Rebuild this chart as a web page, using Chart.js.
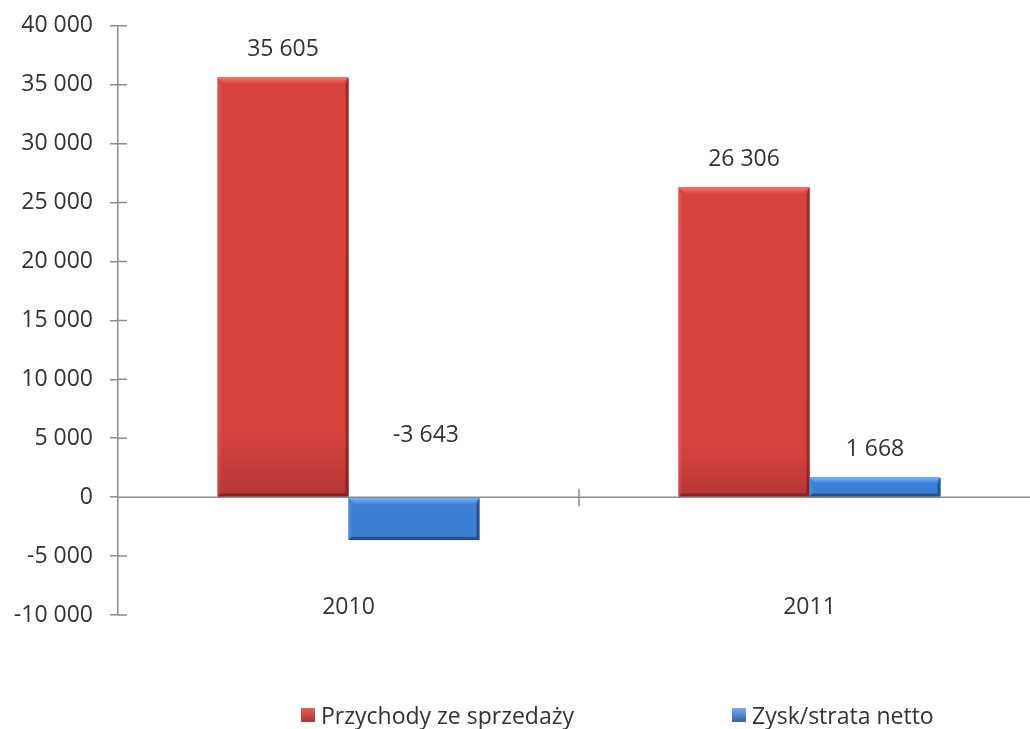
<!DOCTYPE html>
<html>
<head>
<meta charset="utf-8">
<script src="https://cdn.jsdelivr.net/npm/chart.js@4.4.1/dist/chart.umd.min.js"></script>
<style>
  html, body { margin: 0; padding: 0; background: #fff; width: 1030px; height: 729px; overflow: hidden; }
  #wrap { position: absolute; left: 0; top: -5px; width: 1060px; height: 734px; }
  .legend-item { position: absolute; top: 699px; display: flex; align-items: center; font: 23px "Open Sans", sans-serif; color: #333; white-space: nowrap; }
  .legend-box { width: 14px; height: 14px; margin-right: 6px; }
</style>
</head>
<body>
<div id="wrap"><canvas id="chart"></canvas></div>
<div class="legend-item" style="left:301px"><span class="legend-box" style="background:linear-gradient(#e0605a,#b0302d)"></span>Przychody ze sprzedaży</div>
<div class="legend-item" style="left:732px"><span class="legend-box" style="background:linear-gradient(#79adee,#2f63a6)"></span>Zysk/strata netto</div>
<script>
const categories = ['2010', '2011'];
const seriesNames = ['Przychody ze sprzedaży', 'Zysk/strata netto'];
const revenue = [35605, 26306];
const netResult = [-3643, 1668];
const yMin = -10000;
const yMax = 40000;
const yStep = 5000;

// fill + bevel shades per dataset
const SHADES = [
  { base: '#d6413e', top: '#d8433f', bottom: '#b53634', light: '#ec7570', side: 'rgba(255,255,255,0.08)', dark: 'rgba(90,10,10,0.45)' },
  { base: '#3b7ed6', top: '#3d80d8', bottom: '#3676cb', light: '#7cb2f2', side: 'rgba(255,255,255,0.08)', dark: 'rgba(10,30,70,0.45)' },
];

const FONT = '"Open Sans", sans-serif';
const AXIS = '#8c8c8c';
const TEXT = '#333';
const FONT_SIZE = 23;

function fmt(v) {
  const s = String(Math.abs(Math.round(v))).replace(/\B(?=(\d{3})+(?!\d))/g, ' ');
  return (v < 0 ? '-' : '') + s;
}

function poly(ctx, pts, color) {
  ctx.beginPath();
  ctx.moveTo(pts[0][0], pts[0][1]);
  for (let i = 1; i < pts.length; i++) ctx.lineTo(pts[i][0], pts[i][1]);
  ctx.closePath();
  ctx.fillStyle = color;
  ctx.fill();
}

// zero line, inner tick halves on the value axis, divider tick between categories,
// category names placed near the bottom of the plot
const axisMarks = {
  id: 'axisMarks',
  beforeDatasetsDraw(chart) {
    const { ctx, chartArea, scales } = chart;
    const y0 = scales.y.getPixelForValue(0);
    ctx.save();
    ctx.strokeStyle = AXIS;
    ctx.lineWidth = 1.5;
    ctx.beginPath();
    ctx.moveTo(chartArea.left, y0);
    ctx.lineTo(chartArea.right, y0);
    scales.y.ticks.forEach((t) => {
      const py = scales.y.getPixelForValue(t.value);
      ctx.moveTo(chartArea.left, py);
      ctx.lineTo(chartArea.left + 9, py);
    });
    const mid = scales.x.getPixelForValue(0.5);
    ctx.moveTo(mid, y0 - 8);
    ctx.lineTo(mid, y0 + 9);
    ctx.stroke();

    ctx.font = FONT_SIZE + 'px ' + FONT;
    ctx.fillStyle = TEXT;
    ctx.textAlign = 'center';
    ctx.textBaseline = 'middle';
    categories.forEach((c, i) => {
      ctx.fillText(c, scales.x.getPixelForValue(i), chartArea.bottom - 8);
    });
    ctx.restore();
  },
};

// gradient fill and bevelled edges drawn over each bar
const bevel = {
  id: 'bevel',
  afterDatasetsDraw(chart) {
    const ctx = chart.ctx;
    ctx.save();
    chart.data.datasets.forEach((ds, di) => {
      const pal = SHADES[di];
      chart.getDatasetMeta(di).data.forEach((bar) => {
        const p = bar.getProps(['x', 'y', 'base', 'width'], true);
        const l = p.x - p.width / 2, r = p.x + p.width / 2;
        const t = Math.min(p.y, p.base), b = Math.max(p.y, p.base);
        const e = Math.min(7, (b - t) / 3);
        const g = ctx.createLinearGradient(0, t, 0, b);
        g.addColorStop(0, pal.top);
        g.addColorStop(0.85, pal.base);
        g.addColorStop(1, pal.bottom);
        ctx.fillStyle = g;
        ctx.fillRect(l, t, r - l, b - t);
        const tg = ctx.createLinearGradient(0, t, 0, t + e);
        tg.addColorStop(0, pal.light);
        tg.addColorStop(1, pal.top);
        poly(ctx, [[l, t], [r, t], [r - e, t + e], [l + e, t + e]], tg);
        poly(ctx, [[l, t], [l + 3, t + e], [l + 3, b - 3], [l, b]], pal.side);
        poly(ctx, [[r, t], [r, b], [r - 3, b - 3], [r - 3, t + e]], pal.dark);
        poly(ctx, [[l, b], [r, b], [r - 3, b - 3], [l + 3, b - 3]], pal.dark);
      });
    });
    ctx.restore();
  },
};

// value labels: above the bar for positive values, above the zero line for negative
const valueLabels = {
  id: 'valueLabels',
  afterDatasetsDraw(chart) {
    const ctx = chart.ctx;
    ctx.save();
    ctx.font = FONT_SIZE + 'px ' + FONT;
    ctx.fillStyle = TEXT;
    ctx.textAlign = 'center';
    ctx.textBaseline = 'middle';
    chart.data.datasets.forEach((ds, di) => {
      chart.getDatasetMeta(di).data.forEach((bar, i) => {
        const v = ds.data[i];
        const p = bar.getProps(['x', 'y', 'base'], true);
        const y = v >= 0 ? p.y - 28 : p.base - 62;
        const x = v >= 0 ? p.x : p.x + 12;
        ctx.fillText(fmt(v), x, y);
      });
    });
    ctx.restore();
  },
};

new Chart(document.getElementById('chart'), {
  type: 'bar',
  data: {
    labels: categories,
    datasets: [
      { label: seriesNames[0], data: revenue, backgroundColor: SHADES[0].base },
      { label: seriesNames[1], data: netResult, backgroundColor: SHADES[1].base },
    ],
  },
  options: {
    responsive: true,
    maintainAspectRatio: false,
    animation: false,
    categoryPercentage: 0.568,
    barPercentage: 1,
    layout: { padding: { top: 20, right: 20, bottom: 0, left: 0 } },
    plugins: { legend: { display: false }, tooltip: { enabled: false } },
    scales: {
      x: {
        grid: { display: false, drawTicks: false },
        border: { display: false },
        ticks: { display: false },
        afterFit(scale) { scale.height = 114; },
      },
      y: {
        min: yMin,
        max: yMax,
        ticks: { stepSize: yStep, color: TEXT, font: { family: FONT, size: FONT_SIZE }, padding: 17, callback: (v) => fmt(v) },
        grid: { drawOnChartArea: false, drawTicks: true, tickLength: 8, color: AXIS, lineWidth: 1.5 },
        border: { display: true, color: AXIS, width: 1.5 },
        afterFit(scale) { scale.width = 118; },
      },
    },
  },
  plugins: [axisMarks, bevel, valueLabels],
});
</script>
</body>
</html>
